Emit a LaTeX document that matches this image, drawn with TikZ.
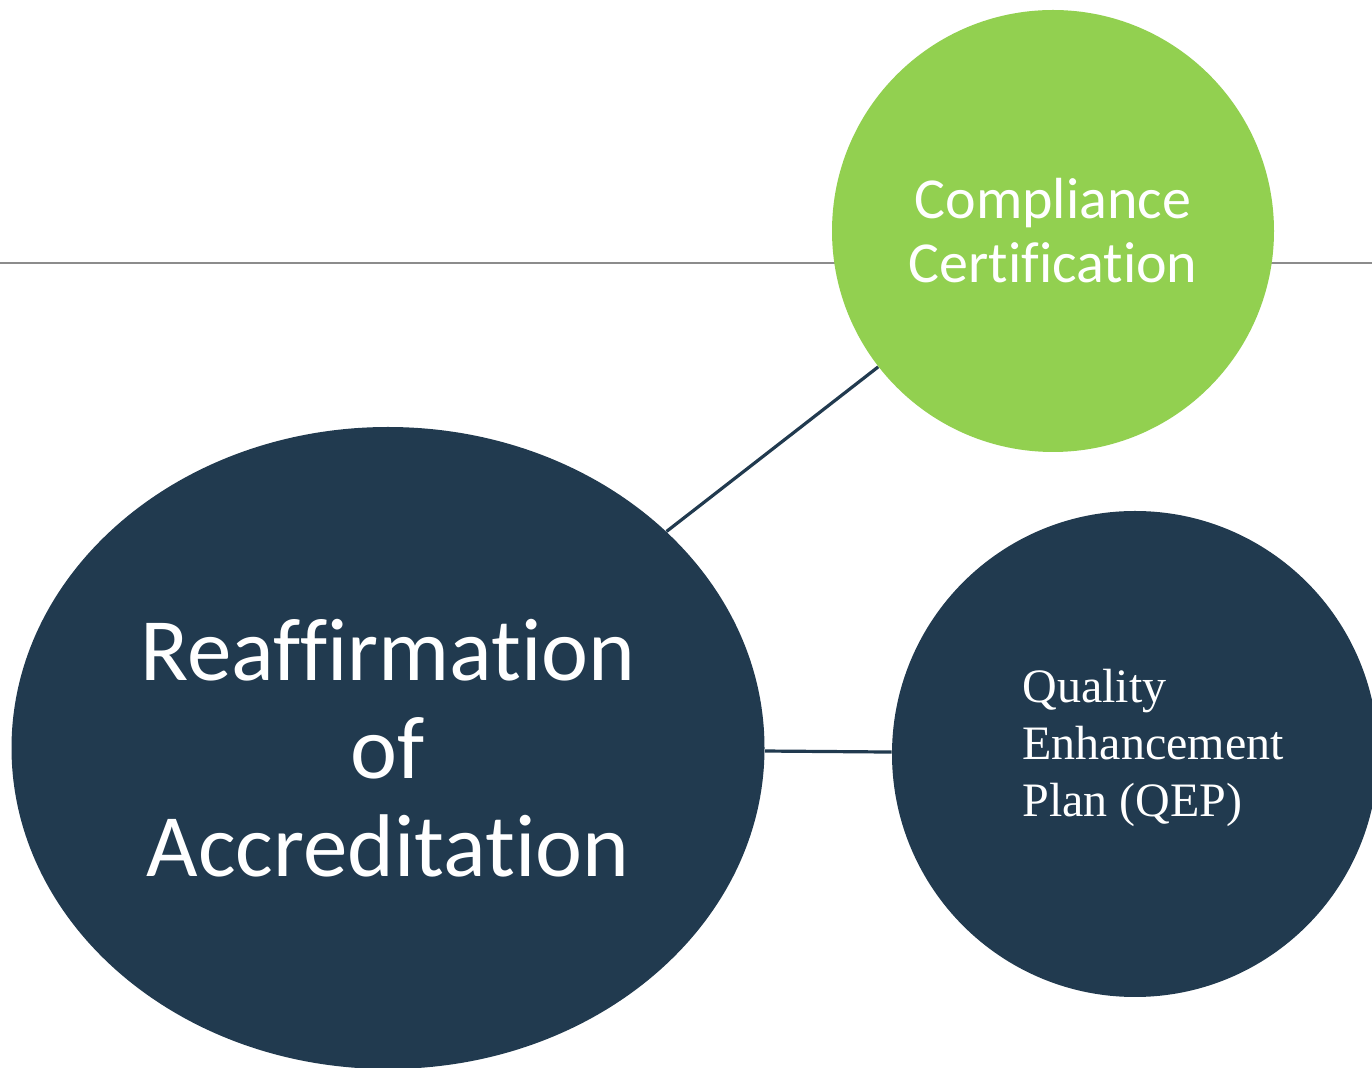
\documentclass[tikz,border=0pt]{standalone}
\usepackage{fontspec}
\setmainfont{Liberation Serif}
\setsansfont{Carlito}[Ligatures=NoCommon]
\usepackage{tikz}
\usetikzlibrary{shapes}
\definecolor{navy}{HTML}{213A4F}
\definecolor{leaf}{HTML}{92D050}
\tikzset{
	bigoval/.style   = {ellipse, fill=navy, text=white, minimum width=376.5pt,
		minimum height=321pt, align=center,
		font=\sffamily\fontsize{44.5}{49}\selectfont},
	greenball/.style = {circle, fill=leaf, text=white, minimum size=221pt,
		align=center, font=\sffamily\fontsize{29}{32}\selectfont},
	navyball/.style  = {circle, fill=navy, minimum size=243pt},
	qeptext/.style   = {anchor=west, inner sep=0pt, text=white, align=left,
		font=\fontsize{24}{28.5}\selectfont},
	hrule/.style     = {draw=black!45, line width=1pt}, % thin rule
	link/.style      = {draw=navy, line width=1.6pt}  % connector
}

\begin{document}
\begin{tikzpicture}[x=0.5pt, y=-0.5pt]
	\useasboundingbox (0,0) rectangle (1372,1068);
	\clip (0,0) rectangle (1372,1068);
	\coordinate (rulel) at (0,263);
	\coordinate (ruler) at (1372,263);
	\draw[hrule] (rulel) -- (ruler);
	
	\draw
	node at (388,748)[bigoval] (reaff) {Reaffirmation\\of\\Accreditation}
	node at (1053,231)[greenball] (compl) {Compliance\\Certification}
	node at (1135,754)[navyball] (qep) {}
	node at (1022,748)[qeptext] (qeplbl) {Quality\\Enhancement\\Plan (QEP)};
	
	\draw[link] (reaff) -- (compl);
	\draw[link] (reaff) -- (qep);
\end{tikzpicture}
\end{document}
